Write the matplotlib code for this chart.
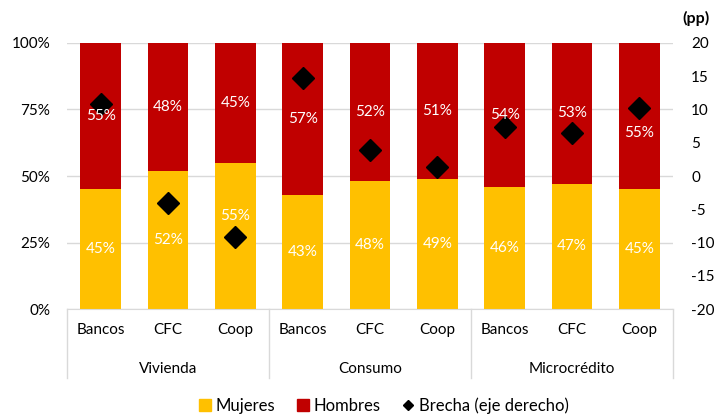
import matplotlib.pyplot as plt
import matplotlib.transforms as mtransforms
from matplotlib.lines import Line2D
from matplotlib.patches import Patch
import numpy as np

plt.rcParams['font.family'] = ['Lato', 'DejaVu Sans']
plt.rcParams['axes.unicode_minus'] = False

grupos = ["Vivienda", "Consumo", "Microcrédito"]
entidades = ["Bancos", "CFC", "Coop"]
mujeres = [45, 52, 55, 43, 48, 49, 46, 47, 45]
hombres = [55, 48, 45, 57, 52, 51, 54, 53, 55]
brecha = [10.8, -4.0, -9.2, 14.7, 3.9, 1.4, 7.4, 6.5, 10.3]

amarillo = "#FFC000"
rojo = "#C00000"
gris = "#D9D9D9"

fig = plt.figure(figsize=(7.15, 4.15), dpi=100)
ax = fig.add_axes([0.0937, 0.2554, 0.8476, 0.641])
x = np.arange(len(mujeres))

ax.bar(x, mujeres, width=0.6, color=amarillo, zorder=2)
ax.bar(x, hombres, width=0.6, bottom=mujeres, color=rojo, zorder=2)

ax.set_xlim(-0.5, len(mujeres) - 0.5)
ax.set_ylim(0, 100)
ax.set_yticks([0, 25, 50, 75, 100])
ax.set_yticklabels([f"{v}%" for v in [0, 25, 50, 75, 100]])
ax.yaxis.grid(True, color=gris, linewidth=1, zorder=0)
ax.set_axisbelow(True)
for s in ["top", "right", "left"]:
    ax.spines[s].set_visible(False)
ax.spines["bottom"].set_color(gris)
ax.tick_params(axis="y", length=0, labelsize=11, pad=12)
ax.set_xticks(x)
ax.set_xticklabels(entidades * len(grupos))
ax.tick_params(axis="x", length=0, labelsize=11, pad=10)

# separadores de grupos y etiquetas de grupo
trans = mtransforms.blended_transform_factory(ax.transData, ax.transAxes)
for b in [-0.5, 2.5, 5.5, 8.5]:
    ax.add_line(Line2D([b, b], [0, -0.26], transform=trans, color=gris, linewidth=1, clip_on=False))
for i, g in enumerate(grupos):
    ax.text(3 * i + 1, -0.225, g, transform=trans, ha="center", va="center", fontsize=11)

ax2 = ax.twinx()
ax2.plot(x, brecha, linestyle="none", marker="D", markersize=11, color="black", zorder=4)
ax2.set_ylim(-20, 20)
ax2.set_yticks(range(-20, 21, 5))
for s in ["top", "right", "left", "bottom"]:
    ax2.spines[s].set_visible(False)
ax2.tick_params(axis="y", length=0, labelsize=11, pad=13)
fig.text(0.955, 0.955, "(pp)", fontsize=11.5, fontweight="bold", ha="left", va="center")

# etiquetas de datos encima de los rombos (algunas desplazadas como en el original)
for xi, m, h in zip(x, mujeres, hombres):
    ym = m / 2
    yh = m + h / 2
    if xi == 2:
        ym = 35
    if xi == 8:
        yh = 66
    ax2.text(xi, ym, f"{m}%", transform=ax.transData, ha="center", va="center",
             color="white", fontsize=11, zorder=5)
    ax2.text(xi, yh, f"{h}%", transform=ax.transData, ha="center", va="center",
             color="white", fontsize=11, zorder=5)

handles = [
    Patch(color=amarillo, label="Mujeres"),
    Patch(color=rojo, label="Hombres"),
    Line2D([], [], linestyle="none", marker="D", markersize=5, color="black", label="Brecha (eje derecho)"),
]
fig.legend(handles=handles, loc="center", bbox_to_anchor=(0.537, 0.022), ncol=3, frameon=False,
           fontsize=12, handlelength=0.7, handleheight=0.7, handletextpad=0.3, columnspacing=1.3)

fig.savefig("out.png", dpi=100)
